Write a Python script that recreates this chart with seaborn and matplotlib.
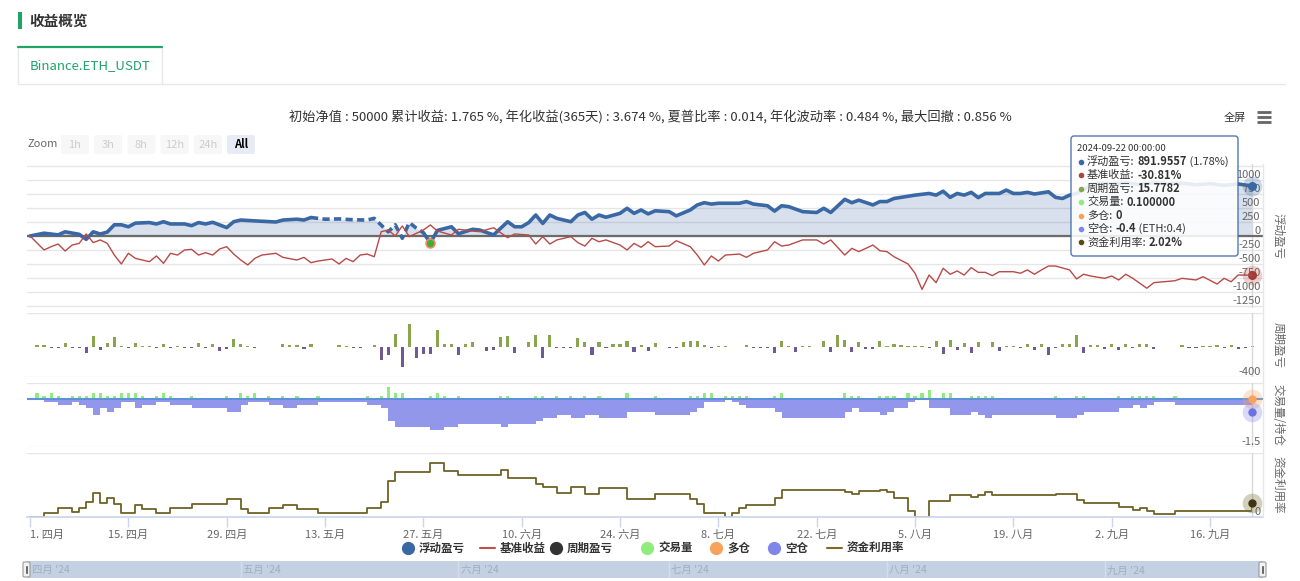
import matplotlib
matplotlib.use("Agg")
import numpy as np
import pandas as pd
import matplotlib.pyplot as plt
import seaborn as sns
from matplotlib.patches import Rectangle, FancyBboxPatch
from matplotlib.transforms import blended_transform_factory

W, H = 1300, 581

# ---- data: day offsets counted from 2024-04-01 ----
pnl_days = [0, 2, 4, 5, 7, 8, 9, 10, 11, 12, 13, 14, 15, 17, 18, 19, 20, 22, 23, 24, 25, 26, 28, 29, 30,
            32, 35, 36, 38, 39, 40, 42, 44, 46, 48, 49, 51, 52, 53, 54, 55, 56, 57, 58, 60, 61, 63, 64,
            66, 68, 69, 70, 71, 72, 73, 74, 75, 77, 78, 79, 80, 81, 82, 84, 85, 86, 87, 88, 89, 91, 92,
            94, 95, 96, 97, 98, 101, 102, 103, 105, 106, 107, 108, 110, 112, 113, 114, 116, 117, 118,
            120, 121, 122, 123, 126, 127, 128, 129, 130, 131, 132, 133, 134, 135, 136, 138, 139, 140,
            141, 142, 143, 145, 146, 147, 148, 149, 150, 151, 152, 154, 156, 158, 160, 162, 164, 166,
            168, 170, 172, 174]
pnl_vals = [0, 50, 20, 75, 30, -60, 75, 35, 70, 200, 200, 165, 230, 240, 215, 255, 215, 215, 185, 240,
            215, 245, 150, 255, 285, 270, 250, 285, 300, 285, 330, 300, 305, 290, 285, 315, 75, 200, -40,
            240, 140, 60, -125, 100, 165, 40, 120, 107, 20, 255, 165, 165, 240, 375, 225, 375, 315, 255,
            375, 420, 300, 375, 335, 405, 495, 405, 465, 395, 450, 435, 360, 465, 555, 595, 570, 585,
            585, 615, 570, 540, 445, 540, 525, 435, 420, 495, 420, 655, 595, 640, 555, 615, 615, 670,
            730, 745, 760, 730, 800, 690, 760, 730, 780, 685, 760, 760, 820, 760, 760, 780, 750, 790,
            690, 670, 730, 760, 830, 900, 945, 930, 950, 920, 955, 930, 945, 915, 935, 905, 930, 891.96]
dashed_from, dashed_to = 40, 56

bench_days = [0, 2, 3, 4, 5, 6, 7, 8, 9, 10, 11, 12, 13, 14, 15, 17, 18, 19, 20, 21, 22, 23, 24, 25, 26,
              27, 28, 29, 30, 31, 32, 33, 35, 36, 38, 39, 40, 41, 43, 44, 45, 46, 47, 48, 49, 50, 51, 52,
              53, 54, 56, 57, 58, 60, 61, 63, 64, 66, 68, 69, 71, 72, 73, 74, 75, 77, 78, 79, 80, 81, 82,
              84, 85, 86, 87, 88, 89, 91, 92, 94, 95, 96, 97, 98, 99, 101, 102, 103, 105, 106, 107, 108,
              110, 112, 113, 114, 116, 117, 118, 120, 121, 122, 123, 125, 126, 127, 128, 129, 130, 131,
              132, 133, 134, 135, 136, 137, 138, 140, 141, 142, 143, 144, 145, 146, 148, 149, 150, 151,
              153, 154, 155, 156, 157, 159, 160, 163, 164, 166, 167, 169, 170, 171, 172, 174]
bench_pct = [0, -11, -8.4, -6.3, -11.8, -7.1, -5.8, 1.6, -5.2, -3.1, -5.8, -15, -22, -13.6, -17.6, -20.2,
             -15.7, -21.5, -13.6, -15, -11, -10.5, -15, -13.1, -15, -10.2, -8.4, -14.2, -18.9, -22.8,
             -17.6, -15, -13.6, -16.8, -18.9, -16.8, -21, -19.7, -18.1, -22, -17.6, -20.2, -15, -14.2,
             -16.3, 3.4, 4.7, 0, 7.9, -0.5, 4.7, 8.7, 3.9, 0.8, 5.3, 3.9, 3.4, 6.5, -1.3, 1.6, 0.8, -6.3,
             -0.5, -6.3, -3.1, -0.5, -5.2, -7.9, -1.8, -4.5, -3.1, -7.1, -11, -5.8, -8.9, -4.5, -8.4,
             -7.9, -3.7, -8.4, -15, -22.8, -15.7, -19.7, -15, -14.2, -16.8, -13.6, -11, -4.5, -7.9, -7.1,
             -3.1, -3.1, -6.3, -3.1, -15, -9.7, -12.3, -7.1, -11.6, -12.3, -16.3, -22, -29.3, -42, -30.7,
             -36.7, -25.4, -30.1, -27.5, -30.7, -24.9, -28.6, -28.6, -31.2, -28.1, -28.1, -29.3, -26.7,
             -30.1, -26.7, -23.6, -23.6, -26.7, -33.8, -30.1, -31.5, -33.3, -31.5, -34.6, -30.1, -33.3,
             -41.1, -36.7, -35.2, -33.3, -34.6, -32, -37.8, -33.3, -36, -30.7, -30.81]

period_days = [1, 2, 3, 4, 5, 6, 7, 8, 9, 10, 11, 12, 13, 14, 15, 16, 17, 18, 19, 20, 21, 22, 23, 24, 25,
               26, 27, 28, 29, 30, 31, 32, 36, 37, 38, 39, 40, 44, 45, 46, 47, 49, 50, 51, 52, 53, 54,
               55, 56, 57, 58, 59, 60, 61, 62, 63, 65, 66, 67, 68, 69, 71, 72, 73, 74, 75, 76, 77, 78,
               79, 80, 81, 82, 83, 84, 85, 86, 87, 88, 89, 91, 92, 93, 94, 95, 96, 97, 98, 99, 102, 103,
               104, 105, 106, 107, 108, 109, 110, 111, 113, 114, 115, 116, 117, 118, 119, 120, 121, 122,
               123, 124, 125, 126, 127, 128, 129, 130, 131, 132, 133, 134, 135, 137, 138, 139, 140, 141,
               142, 143, 144, 145, 146, 147, 148, 149, 150, 151, 152, 153, 154, 155, 156, 157, 158, 159,
               160, 164, 165, 166, 167, 168, 169, 170, 171, 172, 173, 174]
period_vals = [25, 20, -15, -15, 57, -20, -20, -75, 147, -35, 53, 133, 15, -20, 57, 15, 15, -20, 40, -20,
               10, -15, -15, 57, -20, 35, -53, -25, 100, 40, 15, -10, 40, 25, 25, -25, 40, 20, 15, -15,
               -15, 20, -178, -111, 178, -267, 311, -142, -98, -98, 222, 35, 40, -111, 35, 60, -55, -35,
               133, 142, -85, 67, 164, -142, 155, -20, -20, -20, 124, 67, -111, 67, -20, 35, 35, 80, -67,
               30, -58, 53, -20, -20, 67, 80, 80, 30, -20, 10, 10, 25, -10, -10, -15, -80, 80, 10, -67, 10,
               10, 80, -67, 155, 95, -67, 60, -25, -25, 80, 12, 40, 25, 12, 12, 12, -12, 80, -98, 89, -44,
               53, -80, 67, 67, -58, 12, 12, -12, 40, -44, 40, -111, -12, 40, 45, 155, -75, 30, 30, -25,
               35, -35, 40, -12, 40, 40, -25, 25, -12, -12, 12, 12, 25, -12, 25, -25, -12, 15.78]

volume_days = [1, 2, 3, 4, 6, 7, 8, 9, 10, 11, 12, 13, 14, 15, 16, 18, 19, 20, 23, 28, 30, 31, 32, 34, 36,
               38, 41, 48, 50, 51, 52, 53, 57, 58, 59, 61, 67, 68, 72, 73, 75, 77, 79, 81, 85, 89, 94, 95,
               96, 97, 99, 100, 101, 102, 106, 107, 116, 117, 118, 121, 122, 123, 125, 126, 127, 128, 130,
               131, 134, 135, 136, 137, 146, 149, 150, 155, 157, 158, 159, 160, 163, 174]
volume_vals = [0.2, 0.1, 0.2, 0.1, 0.1, 0.1, 0.1, 0.2, 0.2, 0.1, 0.1, 0.2, 0.2, 0.2, 0.1, 0.1, 0.2, 0.1,
               0.1, 0.1, 0.2, 0.1, 0.2, 0.1, 0.1, 0.1, 0.1, 0.1, 0.1, 0.4, 0.2, 0.2, 0.1, 0.2, 0.1, 0.1,
               0.1, 0.1, 0.1, 0.1, 0.1, 0.1, 0.1, 0.1, 0.2, 0.1, 0.1, 0.1, 0.2, 0.2, 0.1, 0.1, 0.1, 0.1,
               0.1, 0.2, 0.2, 0.1, 0.1, 0.1, 0.1, 0.1, 0.2, 0.1, 0.2, 0.3, 0.2, 0.2, 0.1, 0.1, 0.1, 0.1,
               0.1, 0.1, 0.1, 0.1, 0.1, 0.1, 0.1, 0.1, 0.1, 0.1]

short_days = [0, 2, 4, 6, 7, 8, 9, 10, 11, 12, 13, 15, 16, 18, 20, 23, 28, 30, 31, 34, 36, 38, 41, 48, 50,
              51, 52, 57, 59, 61, 67, 68, 72, 73, 75, 77, 79, 81, 85, 89, 94, 95, 96, 99, 100, 101, 102,
              106, 107, 116, 117, 118, 121, 122, 123, 125, 126, 128, 131, 134, 135, 136, 137, 146, 149,
              150, 155, 157, 158, 159, 160, 163, 174]
short_vals = [0, -0.1, -0.2, -0.1, -0.2, -0.3, -0.5, -0.3, -0.4, -0.3, -0.1, -0.3, -0.2, -0.1, -0.2, -0.3,
              -0.4, -0.2, -0.1, -0.2, -0.3, -0.2, -0.1, -0.2, -0.3, -0.7, -0.9, -1.0, -0.9, -0.8, -0.9,
              -0.8, -0.7, -0.6, -0.5, -0.6, -0.5, -0.6, -0.4, -0.5, -0.4, -0.3, -0.1, 0, -0.1, -0.2, -0.3,
              -0.4, -0.6, -0.4, -0.3, -0.4, -0.5, -0.4, -0.3, -0.1, 0, -0.3, -0.5, -0.4, -0.5, -0.6, -0.5,
              -0.6, -0.5, -0.4, -0.3, -0.2, -0.3, -0.2, -0.1, -0.2, -0.4]

util_days = short_days
util_pct = [0, 0.65, 1.37, 0.68, 1.38, 2.23, 3.46, 2.12, 2.75, 1.86, 0.57, 1.81, 1.2, 0.62, 1.26, 1.96,
            2.67, 1.18, 0.56, 1.26, 1.82, 1.18, 0.59, 1.25, 2.26, 5.35, 6.57, 7.94, 6.77, 6.15, 6.9, 5.76,
            4.79, 4.36, 3.54, 4.36, 3.36, 4.19, 2.6, 3.34, 2.67, 1.86, 0.56, 0, 0.62, 1.25, 1.82, 2.79,
            4.03, 3.6, 3.4, 3.8, 4.0, 3.6, 2.8, 0.9, 0, 2.3, 3.2, 2.9, 3.3, 3.6, 3.2, 3.4,
            2.5, 2.1, 1.43, 0.97, 1.38, 0.86, 0.46, 0.95, 2.02]

trade_marker_day, trade_marker_val = 57, -125

tick_days = [0, 14, 28, 42, 56, 70, 84, 98, 112, 126, 140, 154, 168]
tick_labels = ["1. 四月", "15. 四月", "29. 四月", "13. 五月", "27. 五月", "10. 六月", "24. 六月",
               "8. 七月", "22. 七月", "5. 八月", "19. 八月", "2. 九月", "16. 九月"]
main_ticks = [-1250, -1000, -750, -500, -250, 0, 250, 500, 750, 1000]
nav_days = [0, 30, 61, 91, 122, 153]
nav_labels = ["四月 '24", "五月 '24", "六月 '24", "七月 '24", "八月 '24", "九月 '24"]

stats_text = ("初始净值 : 50000 累计收益: 1.765 %, 年化收益(365天) : 3.674 %, 夏普比率 : 0.014, "
              "年化波动率 : 0.484 %, 最大回撤 : 0.856 %")
tooltip_head = "2024-09-22 00:00:00"
tooltip_rows = [("#3a68a4", "浮动盈亏:", "891.9557", " (1.78%)"),
                ("#aa4643", "基准收益:", "-30.81%", ""),
                ("#89a54e", "周期盈亏:", "15.7782", ""),
                ("#90ed7d", "交易量:", "0.100000", ""),
                ("#f7a35c", "多仓:", "0", ""),
                ("#8085e9", "空仓:", "-0.4", " (ETH:0.4)"),
                ("#5a4b14", "资金利用率:", "2.02%", "")]
legend_items = [("o", "#3a68a4", "浮动盈亏"), ("-", "#c0504d", "基准收益"), ("o", "#333333", "周期盈亏"),
                ("o", "#90ed7d", "交易量"), ("o", "#f7a35c", "多仓"), ("o", "#8085e9", "空仓"),
                ("-", "#7d6b25", "资金利用率")]

BLUE = "#3a68a4"
RED = "#b84a47"
BENCH_SCALE = 22.7  # benchmark % drawn against the pnl axis
XL, XR = -0.43, 175.54

sns.set_theme(style="white")
plt.rcParams["font.family"] = ["Noto Sans CJK SC", "DejaVu Sans"]
plt.rcParams["axes.unicode_minus"] = False

fig = plt.figure(figsize=(W / 100, H / 100), dpi=100)
fig.patch.set_facecolor("white")


def px_axes(x0, y0, x1, y1, **kw):
    return fig.add_axes([x0 / W, 1 - y1 / H, (x1 - x0) / W, (y1 - y0) / H], **kw)


def clean(ax):
    ax.set_facecolor("none")
    for s in ax.spines.values():
        s.set_visible(False)
    ax.set_xticks([])
    ax.set_yticks([])
    ax.set_xlabel("")
    ax.set_ylabel("")
    ax.set_xlim(XL, XR)


def right_label(ax, val, txt):
    ax.text(0.998, val, txt, transform=ax.get_yaxis_transform(), ha="right", va="bottom",
            fontsize=8, color="#666666")


# ---- main panel ----
ax0 = px_axes(27, 164, 1263, 308)
df = pd.DataFrame({"day": pnl_days, "pnl": pnl_vals})
for v in main_ticks + [1250]:
    ax0.axhline(v, color="#e6e6e6", lw=1, zorder=0)
ax0.fill_between(df["day"], df["pnl"], 0, color=BLUE, alpha=0.2, lw=0, zorder=1)
seg_a = df[df["day"] <= dashed_from]
seg_b = df[(df["day"] >= dashed_from) & (df["day"] <= dashed_to)]
seg_c = df[df["day"] >= dashed_to]
sns.lineplot(data=seg_a, x="day", y="pnl", ax=ax0, color=BLUE, lw=2.6, estimator=None, zorder=3)
sns.lineplot(data=seg_b, x="day", y="pnl", ax=ax0, color=BLUE, lw=2.6, estimator=None, zorder=3,
             linestyle=(0, (2, 1.2)))
sns.lineplot(data=seg_c, x="day", y="pnl", ax=ax0, color=BLUE, lw=2.6, estimator=None, zorder=3)
ax0.axhline(0, color="#6b6b6b", lw=1.6, zorder=2)
ax0.axvline(174, color="#d8d8d8", lw=1, zorder=1)
ax0.scatter([trade_marker_day], [trade_marker_val], s=40, color="#3cae3c", edgecolor="#f08a5d",
            lw=1.2, zorder=5)
ax0.scatter([pnl_days[-1]], [pnl_vals[-1]], s=200, color=BLUE, alpha=0.25, lw=0, zorder=4)
ax0.scatter([pnl_days[-1]], [pnl_vals[-1]], s=30, color=BLUE, zorder=5)
ax0.set_ylim(-1286, 1286)
clean(ax0)
for v in main_ticks:
    right_label(ax0, v, str(v))

axr = ax0.twinx()
bdf = pd.DataFrame({"day": bench_days, "pct": bench_pct})
sns.lineplot(data=bdf, x="day", y="pct", ax=axr, color=RED, lw=1.0, estimator=None)
axr.scatter([bench_days[-1]], [bench_pct[-1]], s=200, color=RED, alpha=0.25, lw=0)
axr.scatter([bench_days[-1]], [bench_pct[-1]], s=30, color="#a33b38")
axr.set_ylim(-1286 / BENCH_SCALE, 1286 / BENCH_SCALE)
clean(axr)

# ---- period pnl ----
ax1 = px_axes(27, 313, 1263, 377)
cols = ["#89a54e" if v >= 0 else "#6f5a92" for v in period_vals]
ax1.bar(period_days, period_vals, width=0.45, color=cols, lw=0)
ax1.set_ylim(-400, 453)
ax1.axhline(-400, color="#e6e6e6", lw=1)
ax1.axhline(453, color="#e6e6e6", lw=1)
ax1.axvline(174, color="#d8d8d8", lw=1)
clean(ax1)
right_label(ax1, -400, "-400")

# ---- volume / position ----
ax2 = px_axes(27, 383, 1263, 447)
ax2.fill_between(short_days, short_vals, 0, step="post", color="#8085e9", alpha=0.85, lw=0)
ax2.bar(volume_days, volume_vals, width=0.45, color="#90ed7d", lw=0)
ax2.axhline(0, color="#5d93d6", lw=1.5)
ax2.set_ylim(-1.54, 0.52)
ax2.axhline(-1.54, color="#e6e6e6", lw=1)
ax2.axhline(0.52, color="#e6e6e6", lw=1)
ax2.axvline(174, color="#d8d8d8", lw=1)
ax2.scatter([174], [0], s=200, color="#f7a35c", alpha=0.3, lw=0, zorder=4)
ax2.scatter([174], [0], s=25, color="#f7a35c", zorder=5)
ax2.scatter([174], [short_vals[-1]], s=200, color="#8085e9", alpha=0.3, lw=0, zorder=4)
ax2.scatter([174], [short_vals[-1]], s=25, color="#6d72e0", zorder=5)
clean(ax2)
right_label(ax2, -1.54, "-1.5")

# ---- capital utilisation ----
ax3 = px_axes(27, 453, 1263, 517)
udf = pd.DataFrame({"day": util_days, "util": util_pct})
sns.lineplot(data=udf, x="day", y="util", ax=ax3, color="#6e6226", lw=1.3, estimator=None,
             drawstyle="steps-post")
ax3.set_ylim(0, 9.4)
ax3.axhline(9.4, color="#e6e6e6", lw=1)
ax3.axvline(174, color="#d8d8d8", lw=1)
ax3.scatter([174], [util_pct[-1]], s=200, color="#6e6226", alpha=0.3, lw=0, zorder=4)
ax3.scatter([174], [util_pct[-1]], s=25, color="#3e3410", zorder=5)
clean(ax3)
right_label(ax3, 0, "0")
ax3.spines["bottom"].set_visible(True)
ax3.spines["bottom"].set_color("#ccd6eb")
ax3.set_xticks(tick_days)
ax3.set_xticklabels(tick_labels)
ax3.tick_params(axis="x", length=7, width=1, color="#ccd6eb", pad=2, labelsize=8, labelcolor="#666666",
                bottom=True)
ax3.get_xticklabels()[0].set_ha("left")

# ---- navigator ----
axn = px_axes(27, 561, 1263, 578)
axn.set_facecolor("#c3d1e2")
for s in axn.spines.values():
    s.set_visible(False)
axn.set_xticks([])
axn.set_yticks([])
axn.set_xlim(XL, XR)
tr = blended_transform_factory(axn.transData, axn.transAxes)
for d, lab in zip(nav_days, nav_labels):
    if d > 0:
        axn.axvline(d, color="#d3deea", lw=1)
    axn.text(d + 0.3, 0.45, lab, transform=tr, ha="left", va="center", fontsize=7.5, color="#9daec4")

# ---- overlay in pixel coords ----
ov = fig.add_axes([0, 0, 1, 1], zorder=20)
ov.set_xlim(0, W)
ov.set_ylim(H, 0)
ov.axis("off")
ov.set_facecolor("none")

ov.add_patch(Rectangle((18, 12), 3.5, 17, color="#21a366", lw=0))
ov.text(29, 21, "收益概览", fontsize=10.5, fontweight="bold", color="#333333", va="center")
ov.plot([18, 1285], [83.5, 83.5], color="#e8e8e8", lw=1)
ov.plot([18, 18], [47, 83.5], color="#e8e8e8", lw=1)
ov.plot([162, 162], [47, 83.5], color="#e8e8e8", lw=1)
ov.plot([18, 162], [47, 47], color="#21a366", lw=1.6)
ov.add_patch(Rectangle((18.5, 48), 143, 35, color="white", lw=0, zorder=0))
ov.text(90, 66, "Binance.ETH_USDT", fontsize=9.5, color="#20a46b", ha="center", va="center")

ov.text(650, 117, stats_text, fontsize=9.5, color="#333333", ha="center", va="center")
ov.text(1235, 118, "全屏", fontsize=8, color="#333333", ha="center", va="center")
for yy in (111.5, 116.5, 121.5):
    ov.plot([1257, 1271], [yy, yy], color="#666666", lw=2, solid_capstyle="butt")

ov.text(27, 144, "Zoom", fontsize=8, color="#666666", va="center")
for i, lab in enumerate(["1h", "3h", "8h", "12h", "24h", "All"]):
    x0 = 61 + i * 33.2
    active = lab == "All"
    ov.add_patch(FancyBboxPatch((x0, 135), 28, 19, boxstyle="round,pad=0,rounding_size=2",
                                fc="#e6ebf5" if active else "#f7f7f7", ec="none"))
    ov.text(x0 + 14, 144.5, lab, fontsize=8, ha="center", va="center",
            color="#000000" if active else "#cccccc", fontweight="bold" if active else "normal")

# right side axis titles and border
ov.plot([1263, 1263], [164, 517], color="#e3e8ef", lw=1)
for txt, yc in [("浮动盈亏", 236), ("周期盈亏", 345), ("交易量/持仓", 415), ("资金利用率", 485)]:
    ov.text(1278, yc, txt, rotation=270, fontsize=8.3, color="#666666", ha="center", va="center")

# navigator handles
for hx in (23, 1259):
    ov.add_patch(FancyBboxPatch((hx, 562), 7, 15, boxstyle="round,pad=0,rounding_size=1.5",
                                fc="#f2f2f2", ec="#999999", lw=0.8))
    ov.plot([hx + 2.8, hx + 2.8], [566, 573], color="#666666", lw=0.7)
    ov.plot([hx + 4.4, hx + 4.4], [566, 573], color="#666666", lw=0.7)

# legend
legend_x = [408, 480, 556, 647, 716, 774, 827]
for (kind, col, lab), lx in zip(legend_items, legend_x):
    if kind == "o":
        ov.plot([lx], [548], "o", ms=8.5, color=col)
        tx = lx + 11
    else:
        ov.plot([lx, lx + 15], [548, 548], color=col, lw=1.5)
        tx = lx + 20
    ov.text(tx, 548.5, lab, fontsize=8.3, fontweight="bold", color="#333333", va="center")

# tooltip
ov.add_patch(FancyBboxPatch((1071, 136), 167, 120, boxstyle="round,pad=0,rounding_size=3",
                            fc="white", ec=BLUE, lw=1, alpha=0.88, zorder=30))
ov.text(1077, 148.5, tooltip_head, fontsize=6.8, color="#333333", va="center", zorder=31)
fig.canvas.draw()
renderer = fig.canvas.get_renderer()
for i, (col, lab, val, extra) in enumerate(tooltip_rows):
    y = 161.7 + i * 13.45
    ov.plot([1081], [y], "o", ms=3, color=col, zorder=31)
    t1 = ov.text(1087, y, lab, fontsize=8, color="#333333", va="center", zorder=31)
    x1 = t1.get_window_extent(renderer).x1 + 3
    t2 = ov.text(x1, y, val, fontsize=8, fontweight="bold", color="#333333", va="center", zorder=31)
    if extra:
        x2 = t2.get_window_extent(renderer).x1
        ov.text(x2, y, extra, fontsize=8, color="#333333", va="center", zorder=31)

fig.savefig("out.png", dpi=100)
